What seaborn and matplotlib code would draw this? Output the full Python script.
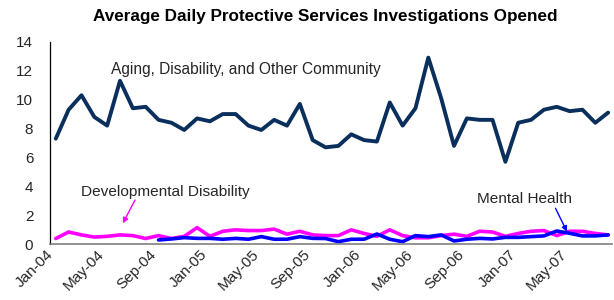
import numpy as np
import pandas as pd
import matplotlib
matplotlib.use("Agg")
import matplotlib.pyplot as plt
import matplotlib.transforms as mtransforms
import seaborn as sns

# monthly values, Jan-04 .. Aug-07
months = pd.period_range("2004-01", "2007-08", freq="M").strftime("%b-%y").tolist()

aging = [7.3, 9.3, 10.3, 8.8, 8.2, 11.3, 9.4, 9.5, 8.6, 8.4,
         7.9, 8.7, 8.5, 9.0, 9.0, 8.2, 7.9, 8.6, 8.2, 9.7,
         7.2, 6.7, 6.8, 7.6, 7.2, 7.1, 9.8, 8.2, 9.4, 12.9,
         10.1, 6.8, 8.7, 8.6, 8.6, 5.7, 8.4, 8.6, 9.3, 9.5,
         9.2, 9.3, 8.4, 9.1]

dev_disability = [0.4, 0.85, 0.65, 0.5, 0.55, 0.65, 0.6, 0.4, 0.6, 0.4,
                  0.55, 1.15, 0.55, 0.9, 1.0, 0.95, 0.95, 1.05, 0.7, 0.9,
                  0.65, 0.6, 0.6, 1.0, 0.75, 0.55, 1.0, 0.6, 0.45, 0.45,
                  0.6, 0.7, 0.55, 0.9, 0.85, 0.55, 0.75, 0.9, 0.95, 0.6,
                  0.9, 0.9, 0.75, 0.65]

mental_health = [np.nan] * 8 + [
                 0.3, 0.37, 0.46, 0.41, 0.41, 0.35, 0.41, 0.35, 0.53, 0.35,
                 0.35, 0.53, 0.41, 0.4, 0.18, 0.35, 0.35, 0.71, 0.35, 0.18,
                 0.6, 0.53, 0.65, 0.23, 0.35, 0.41, 0.37, 0.48, 0.48, 0.53,
                 0.58, 0.92, 0.76, 0.58, 0.58, 0.65]

tick_labels = ["Jan-04", "May-04", "Sep-04", "Jan-05", "May-05", "Sep-05",
               "Jan-06", "May-06", "Sep-06", "Jan-07", "May-07"]

df = pd.DataFrame({
    "idx": np.arange(len(months)),
    "month": months,
    "aging": aging,
    "dev": dev_disability,
    "mh": mental_health,
})

sns.set_style("white")
plt.rcParams["font.family"] = ["Liberation Sans", "DejaVu Sans"]

fig = plt.figure(figsize=(6.14, 3.0), dpi=100)
ax = fig.add_axes([50 / 614, 1 - 244.3 / 300, 562 / 614, 202.6 / 300])

sns.lineplot(data=df, x="idx", y="aging", color="#0b2f5c", linewidth=2.8, ax=ax)
sns.lineplot(data=df, x="idx", y="dev", color="#ff00ff", linewidth=2.6, ax=ax)
sns.lineplot(data=df, x="idx", y="mh", color="#0000ff", linewidth=2.6, ax=ax)

ax.set_xlim(-0.45, 43.3)
ax.set_ylim(0, 14)
ax.set_yticks(range(0, 15, 2))
ax.set_xticks(df["idx"][::4])
ax.set_xticklabels(tick_labels, rotation=45, ha="right", fontsize=11)
shift = mtransforms.ScaledTranslation(-0.11, 0, fig.dpi_scale_trans)
for lbl in ax.get_xticklabels():
    lbl.set_transform(lbl.get_transform() + shift)
ax.tick_params(axis="y", labelsize=11, length=0, pad=12)
ax.tick_params(axis="x", length=0, pad=2)
ax.set_xlabel("")
ax.set_ylabel("")

for s in ["top", "right"]:
    ax.spines[s].set_visible(False)
ax.spines["left"].set_color("black")
ax.spines["left"].set_linewidth(0.9)
ax.spines["bottom"].set_color("#808080")
ax.spines["bottom"].set_linewidth(1.2)

fig.text(325 / 614, 0.945, "Average Daily Protective Services Investigations Opened",
         fontsize=12.3, fontweight="bold", ha="center", va="center", color="black")

ax.text(4.3, 12.1, "Aging, Disability, and Other Community", fontsize=11.2,
        ha="left", va="center")
ax.text(1.95, 3.63, "Developmental Disability", fontsize=11.1, ha="left", va="center")
ax.annotate("", xy=(5.22, 1.45), xytext=(6.17, 3.06),
            arrowprops=dict(arrowstyle="-|>", color="#ff00ff", lw=1.0,
                            mutation_scale=8, shrinkA=0, shrinkB=0))
ax.text(32.8, 3.11, "Mental Health", fontsize=11.1, ha="left", va="center")
ax.annotate("", xy=(39.8, 0.87), xytext=(38.9, 2.49),
            arrowprops=dict(arrowstyle="-|>", color="#0000ff", lw=1.0,
                            mutation_scale=8, shrinkA=0, shrinkB=0))

fig.savefig("out.png", dpi=100)
